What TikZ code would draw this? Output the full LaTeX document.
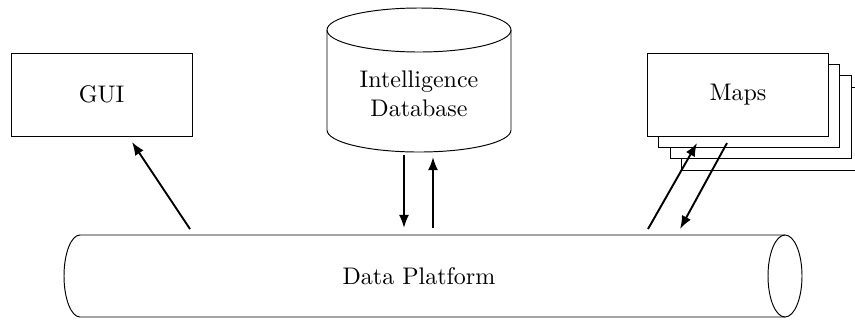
\documentclass[tikz,border=0pt]{standalone}
\usetikzlibrary{arrows.meta}
\begin{document}
\begin{tikzpicture}[x=0.41667pt,y=0.41667pt,
  box/.style={draw, fill=white, minimum width=75.4pt, minimum height=34.6pt,
              inner sep=0pt, outer sep=0pt},
  body/.style={inner sep=0pt, outer sep=0pt},
  flow/.style={thick, -{Latex[length=5.5pt,width=4.2pt]}}]
\clip (0,0) rectangle (855,-320);

% GUI box
\node[box] (gui) at (101.5,-94.5) {GUI};

% Stack of map sheets, back to front
\foreach \k in {3,2,1}
  \node[box] (maps\k) at ({738+11.4*\k},{-94.5-11.4*\k}) {};
\node[box] (maps) at (738,-94.5) {Maps};

% Intelligence database (vertical cylinder)
\node[body, minimum width=76.67pt, minimum height=41.67pt] (dbbody) at (419,-80) {};
\draw (dbbody.north west) -- (dbbody.south west)
      arc[start angle=180, end angle=360, x radius=92, y radius=22]
      -- (dbbody.north east);
\draw (dbbody.north) ellipse[x radius=92, y radius=22];
\node[align=center] (db) at (419,-94) {Intelligence\\Database};

% Data platform (horizontal cylinder)
\node[body, minimum width=293.75pt, minimum height=34.17pt] (dpbody) at (432.5,-276) {};
\draw (dpbody.north east) -- (dpbody.north west)
      arc[start angle=90, end angle=270, x radius=16, y radius=41]
      -- (dpbody.south east);
\draw (dpbody.east) ellipse[x radius=17, y radius=41];
\node (dp) at (419,-276) {Data Platform};

% Arrow end points
\coordinate (guiFrom) at (190,-229);
\coordinate (guiTo)   at (132,-142);
\coordinate (dbOutA)  at (404,-155);
\coordinate (dbOutB)  at (404,-228);
\coordinate (dbInA)   at (433,-228);
\coordinate (dbInB)   at (433,-157);
\coordinate (mapInA)  at (648,-229);
\coordinate (mapInB)  at (697,-143);
\coordinate (mapOutA) at (727,-143);
\coordinate (mapOutB) at (680,-229);

% Data flows
\draw[flow] (guiFrom) -- (guiTo);
\draw[flow] (dbOutA) -- (dbOutB);
\draw[flow] (dbInA) -- (dbInB);
\draw[flow] (mapInA) -- (mapInB);
\draw[flow] (mapOutA) -- (mapOutB);
\end{tikzpicture}
\end{document}
